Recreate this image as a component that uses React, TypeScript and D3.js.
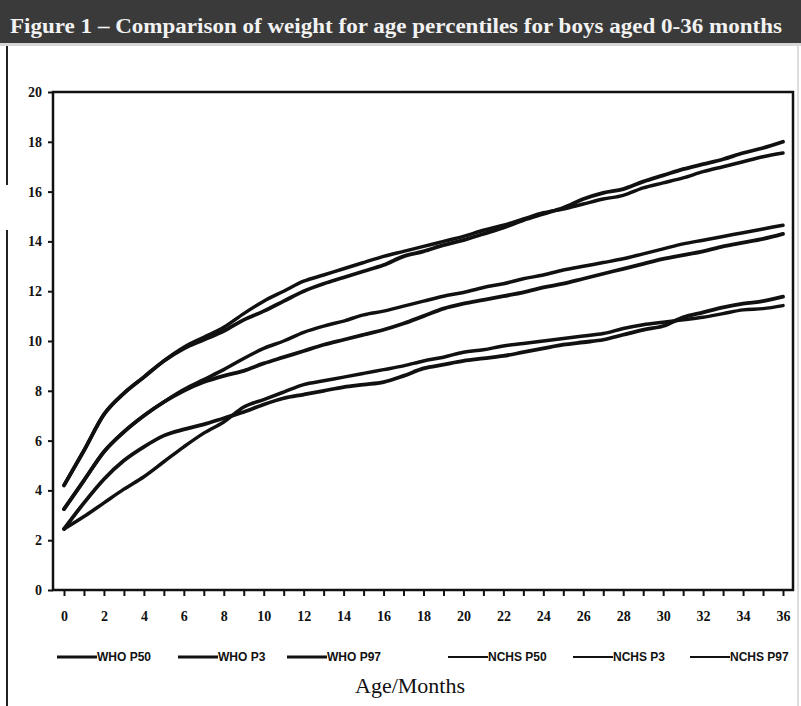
import React, { useRef, useEffect } from 'react'
import * as d3 from 'd3'

// months 0..36
const months = d3.range(0, 37)

// weight (kg), one value per month
const whoP97 = [4.2, 5.6, 7.05, 7.9, 8.55, 9.2, 9.7, 10.05, 10.4, 10.85, 11.2, 11.6, 12.0, 12.3, 12.55, 12.8, 13.05, 13.4, 13.6, 13.85, 14.05, 14.3, 14.55, 14.85, 15.1, 15.35, 15.7, 15.95, 16.1, 16.4, 16.65, 16.9, 17.1, 17.3, 17.55, 17.75, 18.0]
const nchsP97 = [4.2, 5.6, 7.05, 7.9, 8.55, 9.2, 9.75, 10.15, 10.55, 11.1, 11.6, 12.0, 12.4, 12.65, 12.9, 13.15, 13.4, 13.6, 13.8, 14.0, 14.2, 14.45, 14.65, 14.9, 15.15, 15.3, 15.5, 15.7, 15.85, 16.15, 16.35, 16.55, 16.8, 17.0, 17.2, 17.4, 17.55]
const whoP50 = [3.25, 4.4, 5.55, 6.35, 7.0, 7.55, 8.0, 8.35, 8.6, 8.8, 9.1, 9.35, 9.6, 9.85, 10.05, 10.25, 10.45, 10.7, 11.0, 11.3, 11.5, 11.65, 11.8, 11.95, 12.15, 12.3, 12.5, 12.7, 12.9, 13.1, 13.3, 13.45, 13.6, 13.8, 13.95, 14.1, 14.3]
const nchsP50 = [3.25, 4.4, 5.55, 6.35, 7.0, 7.55, 8.05, 8.45, 8.85, 9.3, 9.7, 10.0, 10.35, 10.6, 10.8, 11.05, 11.2, 11.4, 11.6, 11.8, 11.95, 12.15, 12.3, 12.5, 12.65, 12.85, 13.0, 13.15, 13.3, 13.5, 13.7, 13.9, 14.05, 14.2, 14.35, 14.5, 14.65]
const whoP3 = [2.45, 3.5, 4.45, 5.2, 5.75, 6.2, 6.45, 6.65, 6.9, 7.15, 7.45, 7.7, 7.85, 8.0, 8.15, 8.25, 8.35, 8.6, 8.9, 9.05, 9.2, 9.3, 9.4, 9.55, 9.7, 9.85, 9.95, 10.05, 10.25, 10.45, 10.6, 10.95, 11.15, 11.35, 11.5, 11.6, 11.78]
const nchsP3 = [2.45, 2.95, 3.5, 4.05, 4.55, 5.15, 5.75, 6.3, 6.75, 7.35, 7.65, 7.95, 8.25, 8.4, 8.55, 8.7, 8.85, 9.0, 9.2, 9.35, 9.55, 9.65, 9.8, 9.9, 10.0, 10.1, 10.2, 10.3, 10.5, 10.65, 10.75, 10.85, 10.95, 11.1, 11.25, 11.3, 11.42]

const yTicks = [0, 2, 4, 6, 8, 10, 12, 14, 16, 18, 20]

const series = [
  { name: 'WHO P50', values: whoP50, width: 3.8 },
  { name: 'WHO P3', values: whoP3, width: 3.8 },
  { name: 'WHO P97', values: whoP97, width: 3.8 },
  { name: 'NCHS P50', values: nchsP50, width: 3.5 },
  { name: 'NCHS P3', values: nchsP3, width: 3.5 },
  { name: 'NCHS P97', values: nchsP97, width: 3.5 }
]

const legendX = [57, 178, 287, 448, 573, 690]

const title = 'Figure 1 \u2013 Comparison of weight for age percentiles for boys aged 0-36 months'

const W = 801
const H = 706

const App = () => {
  const svgRef = useRef<SVGSVGElement>(null)

  useEffect(() => {
    const svg = d3.select(svgRef.current)
    svg.selectAll('*').remove()

    const xScale = d3.scaleLinear().domain([0, 36]).range([64, 783])
    const yScale = d3.scaleLinear().domain([0, 20]).range([590, 92])

    svg.append('rect').attr('width', W).attr('height', H).attr('fill', '#fff')

    // title band
    svg.append('rect').attr('x', 0).attr('y', 0).attr('width', W).attr('height', 43).attr('fill', '#3a3a3a')
    svg.append('rect').attr('x', 0).attr('y', 43).attr('width', W).attr('height', 3).attr('fill', '#d6d6d6')
    svg
      .append('text')
      .attr('x', 10)
      .attr('y', 33)
      .attr('fill', '#f2f2f2')
      .attr('font-family', '"Liberation Serif", serif')
      .attr('font-size', 20)
      .attr('font-weight', 'bold')
      .attr('textLength', 772)
      .attr('lengthAdjust', 'spacingAndGlyphs')
      .text(title)

    // outer frame (left edge has a gap in the scan)
    svg.append('line').attr('x1', 7).attr('x2', 7).attr('y1', 46).attr('y2', 185).attr('stroke', '#222').attr('stroke-width', 2)
    svg.append('line').attr('x1', 7).attr('x2', 7).attr('y1', 230).attr('y2', H).attr('stroke', '#222').attr('stroke-width', 2)
    svg.append('line').attr('x1', 798).attr('x2', 798).attr('y1', 46).attr('y2', H).attr('stroke', '#bbb').attr('stroke-width', 1)

    // plot box
    svg
      .append('rect')
      .attr('x', 53)
      .attr('y', 92)
      .attr('width', 740)
      .attr('height', 498)
      .attr('fill', 'none')
      .attr('stroke', '#111')
      .attr('stroke-width', 2.5)

    const yAxis = d3.axisLeft(yScale).tickValues(yTicks).tickSize(5).tickPadding(6)
    const yAxisGroup = svg.append('g').attr('transform', 'translate(53,0)').call(yAxis)
    yAxisGroup.select('.domain').remove()
    yAxisGroup.selectAll('line').attr('stroke', '#111').attr('stroke-width', 2)
    yAxisGroup
      .selectAll('text')
      .attr('fill', '#111')
      .attr('font-family', '"Liberation Serif", serif')
      .attr('font-weight', 'bold')
      .attr('font-size', 14)

    const xAxis = d3
      .axisBottom(xScale)
      .tickValues(months)
      .tickSize(6)
      .tickPadding(15)
      .tickFormat(d => (+d % 2 === 0 ? String(d) : ''))
    const xAxisGroup = svg.append('g').attr('transform', 'translate(0,590)').call(xAxis)
    xAxisGroup.select('.domain').remove()
    xAxisGroup.selectAll('line').attr('stroke', '#111').attr('stroke-width', 2)
    xAxisGroup
      .selectAll('text')
      .attr('fill', '#111')
      .attr('font-family', '"Liberation Serif", serif')
      .attr('font-weight', 'bold')
      .attr('font-size', 14)

    const line = d3
      .line<number>()
      .x((d, i) => xScale(months[i]))
      .y(d => yScale(d))
      .curve(d3.curveMonotoneX)

    svg
      .selectAll('.curve')
      .data(series)
      .enter()
      .append('path')
      .attr('class', 'curve')
      .attr('fill', 'none')
      .attr('stroke', '#111')
      .attr('stroke-width', d => d.width)
      .attr('stroke-linecap', 'round')
      .attr('d', d => line(d.values))

    // legend
    const legend = svg
      .selectAll('.legend')
      .data(series)
      .enter()
      .append('g')
      .attr('class', 'legend')
      .attr('transform', (d, i) => `translate(${legendX[i]},657)`)
    legend
      .append('line')
      .attr('x1', 0)
      .attr('x2', 40)
      .attr('stroke', '#111')
      .attr('stroke-width', d => (d.name.startsWith('WHO') ? 3 : 2))
    legend
      .append('text')
      .attr('x', 40)
      .attr('dy', '0.35em')
      .attr('fill', '#111')
      .attr('font-family', '"Liberation Sans", sans-serif')
      .attr('font-weight', 'bold')
      .attr('font-size', 12)
      .text(d => d.name)

    svg
      .append('text')
      .attr('x', 410)
      .attr('y', 693)
      .attr('text-anchor', 'middle')
      .attr('fill', '#111')
      .attr('font-family', '"Liberation Serif", serif')
      .attr('font-size', 22)
      .text('Age/Months')
  }, [])

  return <svg ref={svgRef} width={W} height={H} style={{ position: 'absolute', left: 0, top: 0 }} />
}

export default App
